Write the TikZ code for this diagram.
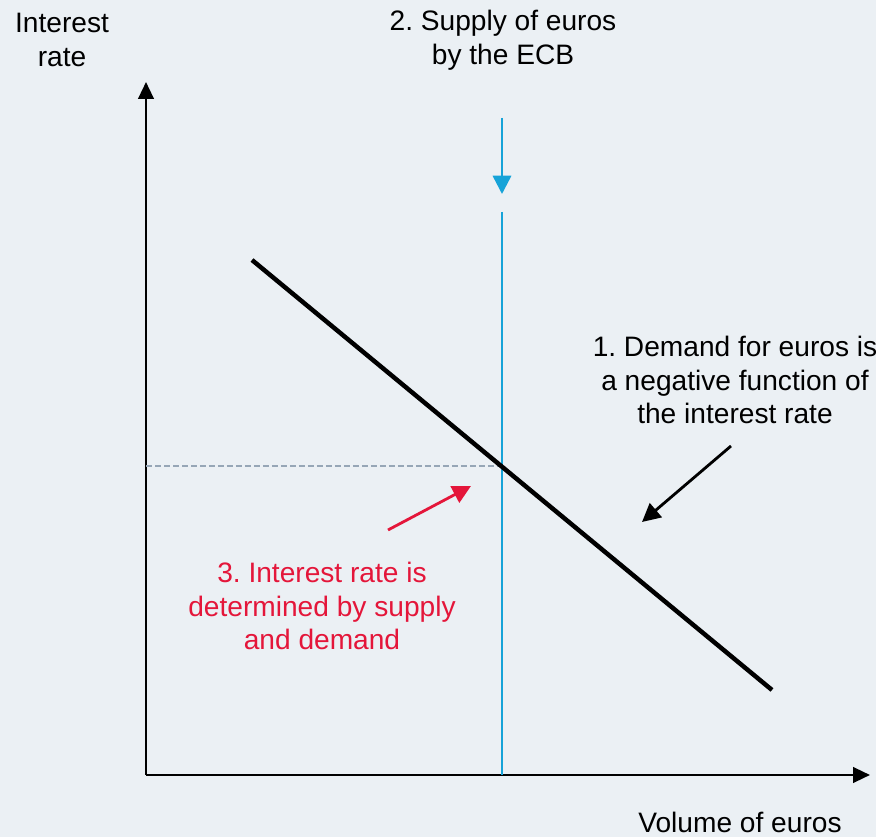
\documentclass[tikz,border=0pt]{standalone}
\usepackage{fontspec}
\setmainfont{Liberation Sans}
\usepackage{tikz}
\usetikzlibrary{arrows.meta}
\definecolor{bgpanel}{RGB}{235,240,244}
\definecolor{ecbblue}{RGB}{22,163,216}
\definecolor{ratered}{RGB}{228,22,58}
\definecolor{guidegray}{RGB}{150,166,182}
\frenchspacing
\tikzset{
  axis/.style={-{Triangle[width=5.5pt,length=6pt]}, line width=0.9pt},
  demand/.style={line width=1.6pt},
  supply/.style={ecbblue, line width=0.9pt},
  guide/.style={guidegray, dash pattern=on 2pt off 1.2pt, line width=0.7pt},
  note/.style={align=center, font=\fontsize{10}{12}\selectfont, inner sep=0pt},
  ptr/.style={-{Triangle[width=6.5pt,length=6.5pt]}, line width=1pt},
}

\begin{document}
\begin{tikzpicture}[x=0.0125cm, y=-0.0125cm]
  \fill[bgpanel] (0,0) rectangle (876,837);
  \useasboundingbox (0,0) rectangle (876,837);
  % axes
  \coordinate (origin) at (146,775);
  \coordinate (ytip) at (146,82);
  \coordinate (xtip) at (870,775);
  \draw[axis] (origin) -- (ytip);
  \draw[axis] (origin) -- (xtip);
  % supply and demand
  \coordinate (eq) at (502,466);
  \coordinate (stop) at (502,212);
  \coordinate (sbot) at (502,775);
  \coordinate (d1) at (252,260);
  \coordinate (d2) at (772,690);
  \coordinate (yeq) at (146,466);
  \draw[guide] (yeq) -- (eq);
  \draw[supply] (stop) -- (sbot);
  \draw[demand] (d1) -- (d2);
  % labels
  \node[note] (ylab) at (62,40) {Interest\\rate};
  \node[note] (xlab) at (740,822) {Volume of euros};
  \node[note] (slab) at (503,40) {2. Supply of euros\\by the ECB};
  \node[note] (dlab) at (735,380) {1. Demand for euros is\\a negative function of\\the interest rate};
  \node[note, text=ratered] (rlab) at (322,606) {3. Interest rate is\\determined by supply\\and demand};
  % pointers
  \coordinate (sfrom) at (502,118);
  \coordinate (sto) at (502,194);
  \coordinate (dfrom) at (731,446);
  \coordinate (dto) at (642,522);
  \coordinate (rfrom) at (388,530);
  \coordinate (rto) at (471,486);
  \draw[ptr, ecbblue, line width=0.9pt] (sfrom) -- (sto);
  \draw[ptr] (dfrom) -- (dto);
  \draw[ptr, ratered] (rfrom) -- (rto);
\end{tikzpicture}
\end{document}
